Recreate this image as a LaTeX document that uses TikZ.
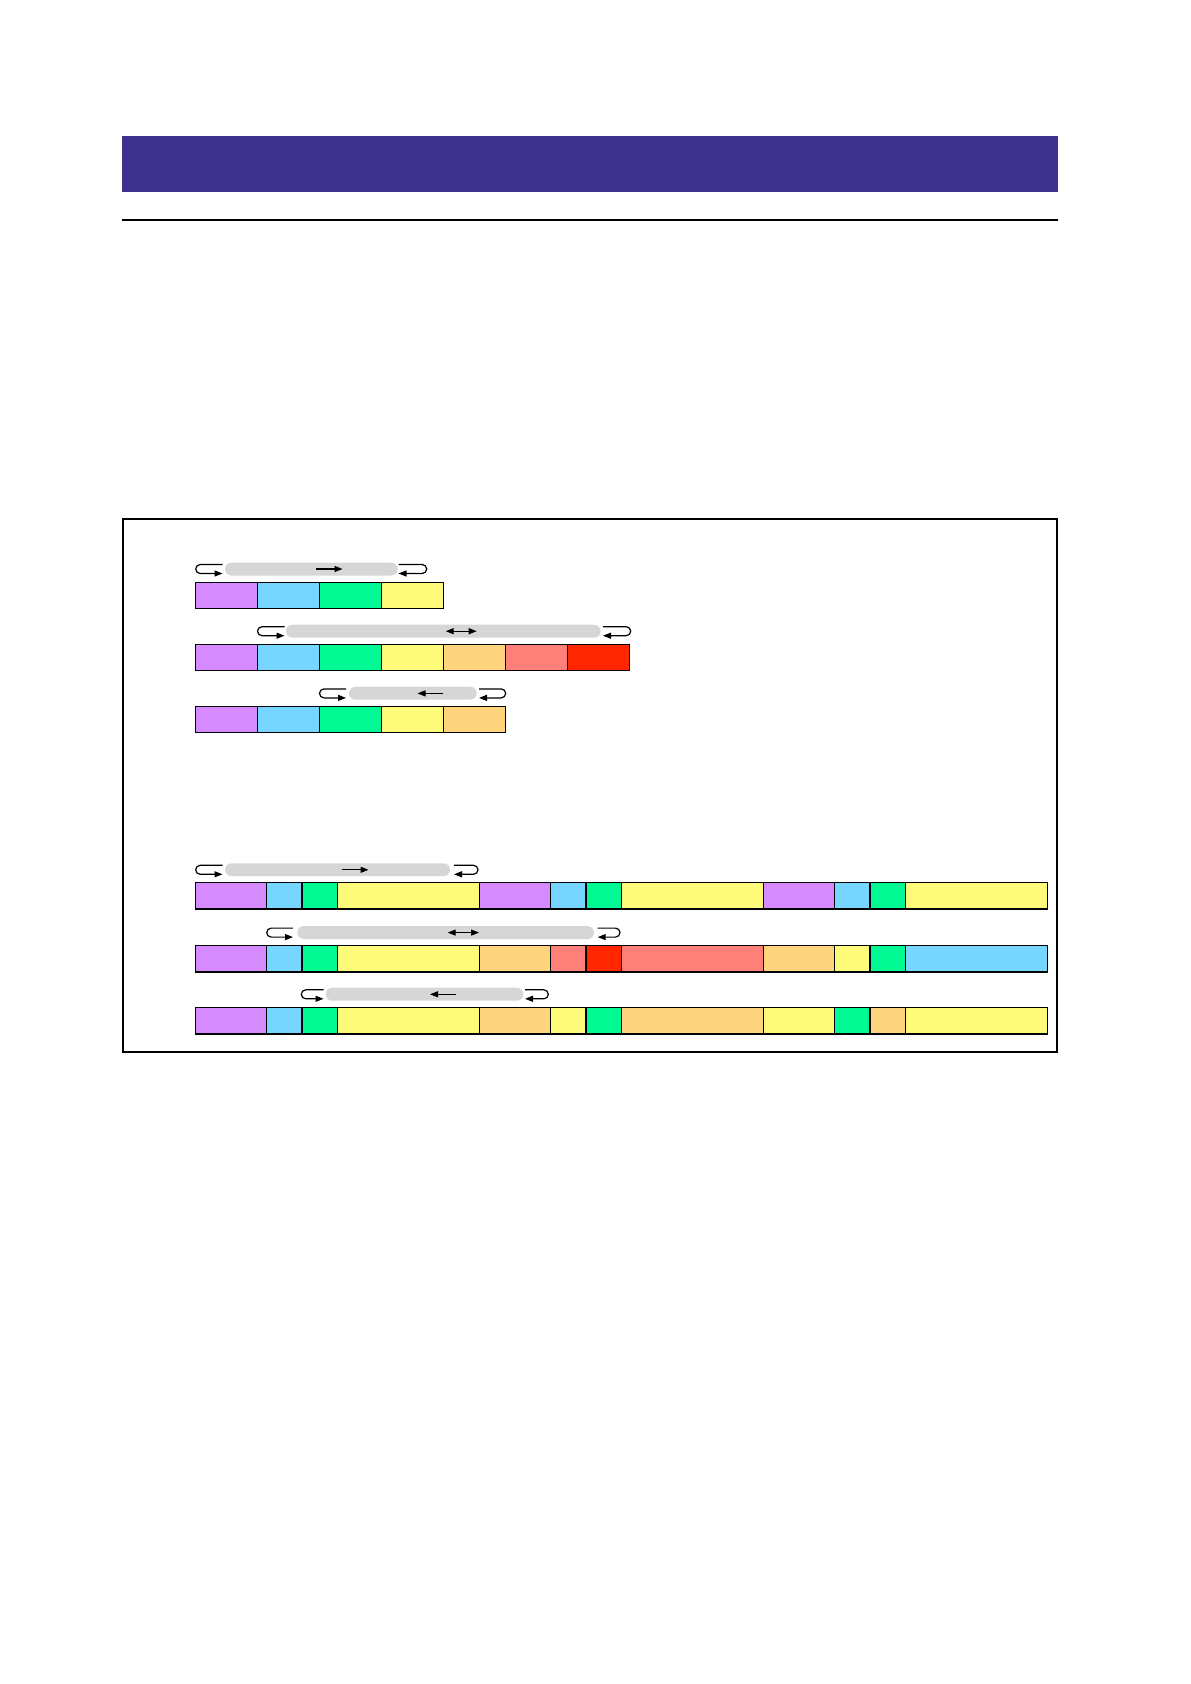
\documentclass[tikz,border=0pt]{standalone}
\usetikzlibrary{arrows.meta}
\definecolor{hdr}{RGB}{62,50,143}
\definecolor{cP}{RGB}{213,138,255}
\definecolor{cB}{RGB}{118,214,255}
\definecolor{cG}{RGB}{0,249,146}
\definecolor{cY}{RGB}{255,251,122}
\definecolor{cO}{RGB}{255,212,126}
\definecolor{cS}{RGB}{255,127,121}
\definecolor{cR}{RGB}{255,38,0}
\definecolor{gbar}{RGB}{214,214,214}
\tikzset{
  cell/.style={draw=black,line width=1.1pt},
  graybar/.style={fill=gbar,rounded corners=6.5pt},
  hook/.style={draw=black,line width=1.2pt,rounded corners=4.5pt,-{Triangle[length=8pt,width=6pt]}},
  dirarrow/.style={line width=1.1pt,-{Triangle[length=8pt,width=6pt]}},
  bidarrow/.style={line width=1.1pt,{Triangle[length=8pt,width=6pt]}-{Triangle[length=8pt,width=6pt]}}
}
\newcommand\loopset[4]{%
  \draw[hook] (#2,\yc-4.5) -- (#1,\yc-4.5) -- (#1,\yc+4.5) -- (#2,\yc+4.5);
  \draw[hook] (#3,\yc-4.5) -- (#4,\yc-4.5) -- (#4,\yc+4.5) -- (#3,\yc+4.5);
}
\begin{document}
\begin{tikzpicture}[x=1pt,y=-1pt]
\useasboundingbox (0,0) rectangle (1191,1684);
% header
\fill[hdr] (122,136) rectangle (1058,191.5);
\draw[line width=2pt] (122,219.5) -- (1058,219.5);
% frame
\draw[line width=2pt] (122.5,519) rectangle (1056.5,1051.5);

% ---------- top rows ----------
\foreach \c [count=\i from 0] in {cP,cB,cG,cY}
  \draw[cell,fill=\c] ({195.5+62*\i},582.5) rectangle ++(62,26);
\foreach \c [count=\i from 0] in {cP,cB,cG,cY,cO,cS,cR}
  \draw[cell,fill=\c] ({195.5+62*\i},644.5) rectangle ++(62,26);
\foreach \c [count=\i from 0] in {cP,cB,cG,cY,cO}
  \draw[cell,fill=\c] ({195.5+62*\i},706.5) rectangle ++(62,26);

% row 1 controls
\fill[graybar] (225,562.7) rectangle (397.7,575.5);
\draw[dirarrow] (316,569) -- (342.5,569);
\def\yc{569}\loopset{195.7}{222.5}{398.5}{426.7}
% row 2 controls
\fill[graybar] (286,624.7) rectangle (600.7,637.7);
\draw[bidarrow] (445.7,631.2) -- (476.7,631.2);
\def\yc{631.2}\loopset{257.5}{284.5}{603}{630.7}
% row 3 controls
\fill[graybar] (349,686.7) rectangle (476.7,699.7);
\draw[dirarrow] (443.3,693.4) -- (417.5,693.4);
\def\yc{693.4}\loopset{319.5}{346}{479}{505.7}

% ---------- bottom rows ----------
\def\u{35.5}
\foreach \c/\a/\w in {cP/0/2,cB/2/1,cG/3/1,cY/4/4,cP/8/2,cB/10/1,cG/11/1,cY/12/4,cP/16/2,cB/18/1,cG/19/1,cY/20/4}
  \draw[cell,fill=\c] ({195.5+\u*\a},882.5) rectangle ({195.5+\u*(\a+\w)},909);
\foreach \c/\a/\w in {cP/0/2,cB/2/1,cG/3/1,cY/4/4,cO/8/2,cS/10/1,cR/11/1,cS/12/4,cO/16/2,cY/18/1,cG/19/1,cB/20/4}
  \draw[cell,fill=\c] ({195.5+\u*\a},945.5) rectangle ({195.5+\u*(\a+\w)},972);
\foreach \c/\a/\w in {cP/0/2,cB/2/1,cG/3/1,cY/4/4,cO/8/2,cY/10/1,cG/11/1,cO/12/4,cY/16/2,cG/18/1,cO/19/1,cY/20/4}
  \draw[cell,fill=\c] ({195.5+\u*\a},1007.5) rectangle ({195.5+\u*(\a+\w)},1034);

% row 4 controls
\fill[graybar] (225,863.3) rectangle (450,876.2);
\draw[dirarrow] (342.3,869.8) -- (368.5,869.8);
\def\yc{869.8}\loopset{195.7}{222.5}{454}{478}
% row 5 controls
\fill[graybar] (297.3,926) rectangle (594,939);
\draw[bidarrow] (447.7,932.6) -- (479,932.6);
\def\yc{932.6}\loopset{266.7}{293}{597.7}{620}
% row 6 controls
\fill[graybar] (325.7,987.7) rectangle (523.3,1000.7);
\draw[dirarrow] (456,994.3) -- (430,994.3);
\def\yc{994.3}\loopset{301.3}{323.5}{525}{548.3}
\end{tikzpicture}
\end{document}
